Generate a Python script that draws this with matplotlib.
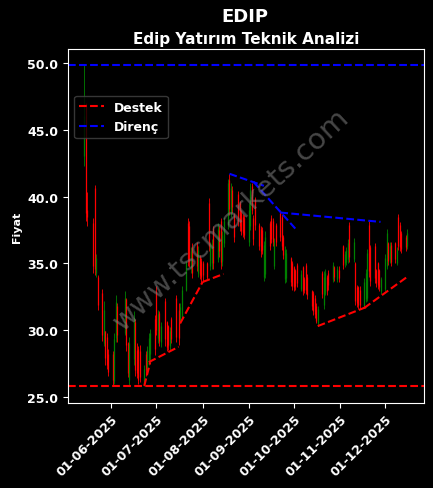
import numpy as np
import pandas as pd
import matplotlib
matplotlib.use("Agg")
import matplotlib.pyplot as plt
import matplotlib.dates as mdates

# ----- İşlem günleri (Mayıs - Aralık 2025) -----
holidays = ['2025-05-19', '2025-06-06', '2025-06-09', '2025-07-15', '2025-10-29']
dates = pd.bdate_range('2025-05-14', '2025-12-16')
dates = dates[~dates.isin(pd.to_datetime(holidays))]

# ----- OHLC verisi (aylara göre) -----
opens = [
    43.0, 46.9, 39.0, 38.0, 40.6, 34.3, 34.0, 32.8, 29.0, 29.9, 29.5, 28.2,
    28.2, 26.2, 29.4, 31.8, 29.8, 32.3, 29.0, 26.3, 27.8, 30.6, 28.5, 28.6, 28.4, 25.95, 28.2, 27.0, 27.5, 28.2, 30.8,
    32.9, 29.4, 31.3, 29.1, 32.2, 30.6, 30.3, 28.8, 30.8, 32.4, 31.5, 30.6, 31.0, 33.0, 38.0, 37.8, 34.6, 36.2, 36.4, 34.3, 35.5, 35.2,
    35.0, 35.0, 39.5, 34.8, 35.0, 37.6, 35.3, 37.5, 38.2, 35.2, 36.5, 37.9, 41.2, 38.8, 40.5, 38.6, 40.2, 39.5, 38.8, 38.5, 38.4,
    36.6, 37.8, 40.8, 38.4, 39.8, 37.9, 37.6, 37.5, 34.0, 34.2, 38.0, 38.4, 38.2, 34.8, 37.9, 38.8, 38.5, 37.0, 33.8, 33.9, 35.4, 35.0,
    34.7, 34.5, 34.9, 33.1, 34.7, 33.8, 34.9, 34.0, 32.9, 32.8, 32.4, 31.8, 30.5, 34.3, 31.9, 32.8, 34.0, 34.3, 33.8, 34.7, 33.8, 34.5,
    36.3, 35.0, 35.1, 35.3, 37.9, 35.3, 35.0, 33.2, 33.2, 33.0, 31.8, 32.3, 32.4, 37.9, 36.2, 36.3, 34.5, 35.0, 34.5, 32.9,
    33.1, 34.8, 36.5, 35.3, 36.4, 36.5, 35.0, 38.5, 37.9, 37.3, 37.0, 36.3,
]
highs = [
    49.86, 47.0, 40.3, 38.4, 40.85, 35.7, 34.1, 33.1, 32.2, 29.9, 29.75, 28.6,
    28.4, 29.8, 32.6, 32.0, 32.9, 32.4, 29.1, 29.5, 31.4, 30.8, 29.0, 28.8, 28.9, 27.4, 28.4, 28.8, 29.8, 30.1, 31.1,
    33.3, 31.5, 31.4, 30.6, 32.4, 30.7, 30.4, 30.2, 31.0, 32.6, 32.0, 32.0, 33.3, 35.2, 38.4, 38.2, 36.2, 36.5, 36.6, 36.3, 35.6, 35.4,
    35.2, 35.1, 39.9, 36.6, 36.8, 37.8, 38.0, 37.8, 38.4, 37.4, 38.5, 41.3, 41.7, 41.0, 40.8, 38.8, 40.4, 39.7, 39.0, 38.7, 38.6,
    39.5, 41.0, 41.0, 38.6, 40.0, 38.0, 37.8, 37.7, 36.7, 37.4, 38.2, 38.6, 38.4, 36.9, 38.0, 39.0, 38.7, 37.1, 36.3, 36.1, 35.5, 35.2,
    34.8, 34.6, 35.0, 34.5, 34.8, 34.0, 35.0, 34.2, 33.0, 32.9, 32.6, 32.0, 31.8, 34.4, 34.4, 34.6, 34.1, 34.5, 35.1, 34.8, 34.8, 34.8,
    36.4, 35.9, 36.2, 36.8, 38.1, 36.9, 35.1, 33.4, 33.3, 33.3, 33.9, 34.6, 36.1, 38.2, 36.4, 36.5, 34.6, 35.1, 34.6, 34.0,
    35.7, 37.6, 36.6, 36.6, 36.6, 36.6, 36.2, 38.7, 38.1, 37.4, 37.1, 37.6,
]
lows = [
    42.3, 38.2, 37.8, 34.3, 34.1, 34.0, 31.5, 29.2, 28.8, 27.4, 27.1, 26.6,
    25.9, 26.0, 29.1, 29.1, 29.6, 28.4, 26.5, 25.9, 27.4, 26.6, 26.4, 26.0, 26.1, 25.82, 26.6, 26.8, 27.4, 27.7, 28.1,
    29.6, 29.0, 28.8, 28.7, 28.8, 28.4, 28.5, 28.5, 29.0, 29.1, 28.9, 30.5, 30.8, 32.9, 34.8, 34.7, 34.3, 33.9, 34.4, 34.0, 33.8, 33.6,
    33.7, 33.8, 35.9, 34.5, 34.6, 34.6, 35.1, 35.5, 34.6, 34.8, 36.2, 37.6, 38.6, 38.5, 38.8, 36.6, 37.8, 37.4, 37.1, 37.0, 36.8,
    36.3, 37.5, 38.7, 36.4, 37.5, 36.0, 35.5, 35.7, 33.7, 33.9, 36.0, 36.5, 36.3, 34.6, 36.3, 36.7, 36.0, 35.3, 33.5, 33.6, 33.3, 33.0,
    32.9, 33.0, 33.2, 32.9, 32.6, 32.8, 32.7, 32.3, 31.5, 31.1, 30.9, 30.5, 30.3, 32.4, 31.6, 32.6, 32.6, 33.0, 33.6, 33.7, 33.6, 33.6,
    34.6, 34.7, 34.9, 35.0, 35.1, 35.1, 31.9, 31.7, 31.6, 31.6, 31.65, 32.1, 32.2, 34.0, 33.3, 33.5, 33.2, 33.1, 32.9, 32.7,
    32.9, 34.6, 34.9, 35.0, 34.8, 35.0, 34.9, 36.0, 35.9, 35.8, 35.9, 36.1,
]
closes = [
    46.0, 38.8, 38.5, 34.8, 34.6, 35.4, 31.9, 29.6, 31.5, 27.9, 27.4, 26.9,
    26.3, 29.3, 32.1, 29.6, 32.4, 28.9, 26.8, 29.0, 30.9, 27.0, 26.8, 26.3, 26.5, 27.1, 27.0, 28.5, 29.4, 29.8, 28.6,
    30.0, 31.2, 29.2, 30.3, 29.3, 28.7, 28.9, 29.9, 29.3, 29.5, 29.4, 31.7, 33.0, 35.0, 35.3, 35.1, 35.9, 34.3, 34.8, 36.0, 34.1, 34.0,
    34.1, 34.0, 36.3, 36.3, 36.5, 35.0, 37.6, 35.9, 35.1, 37.1, 38.2, 41.0, 39.1, 40.6, 39.2, 37.0, 38.2, 37.8, 37.4, 37.3, 37.1,
    39.0, 40.5, 39.0, 36.8, 37.9, 36.3, 35.9, 36.0, 36.4, 37.0, 36.3, 36.8, 36.6, 36.6, 36.6, 37.0, 36.3, 35.6, 36.0, 35.8, 33.6, 33.3,
    33.2, 33.3, 33.5, 34.2, 32.9, 33.0, 33.0, 32.6, 31.8, 31.4, 31.2, 30.7, 31.6, 32.7, 34.0, 34.3, 32.9, 33.4, 34.9, 34.0, 34.6, 33.9,
    34.9, 35.7, 36.0, 36.5, 35.5, 36.6, 32.2, 32.0, 31.9, 31.9, 33.6, 34.3, 35.8, 34.4, 33.7, 33.9, 33.5, 33.4, 33.2, 33.8,
    35.4, 37.3, 35.2, 36.3, 35.1, 35.3, 36.0, 36.3, 36.2, 36.1, 36.2, 37.3,
]

# ----- Destek / direnç çizgileri -----
support_lines = [
    (('2025-06-23', 25.82), ('2025-06-27', 27.6)),
    (('2025-06-26', 27.6), ('2025-07-16', 28.75)),
    (('2025-07-17', 30.5), ('2025-08-01', 33.6)),
    (('2025-08-01', 33.6), ('2025-08-15', 34.2)),
    (('2025-10-17', 30.3), ('2025-11-19', 31.75)),
    (('2025-11-17', 31.65), ('2025-12-16', 34.0)),
]
resistance_lines = [
    (('2025-08-19', 41.7), ('2025-09-11', 40.8)),
    (('2025-09-04', 41.1), ('2025-10-02', 37.6)),
    (('2025-09-22', 38.8), ('2025-11-28', 38.1)),
]

df = pd.DataFrame({'open': opens, 'high': highs, 'low': lows, 'close': closes}, index=dates)

plt.rcParams['font.family'] = ['DejaVu Sans']
fig = plt.figure(figsize=(4.33, 4.89), dpi=100, facecolor='black')
ax = fig.add_axes([0.157, 0.174, 0.822, 0.724], facecolor='black')

colors = np.where(df['close'] >= df['open'], 'green', 'red')
ax.vlines(df.index, df['low'], df['high'], colors=colors, linewidth=0.6)
ax.vlines(df.index, df['open'], df['close'], colors=colors, linewidth=0.9)

# yatay destek / direnç
ax.axhline(df['low'].min(), color='red', linestyle='--', linewidth=1.5)
ax.axhline(df['high'].max(), color='blue', linestyle='--', linewidth=1.5)

for i, (p1, p2) in enumerate(support_lines):
    ax.plot(pd.to_datetime([p1[0], p2[0]]), [p1[1], p2[1]], color='red', linestyle='--',
            linewidth=1.5, label='Destek' if i == 0 else None)
for i, (p1, p2) in enumerate(resistance_lines):
    ax.plot(pd.to_datetime([p1[0], p2[0]]), [p1[1], p2[1]], color='blue', linestyle='--',
            linewidth=1.5, label='Direnç' if i == 0 else None)

ax.set_xlim(pd.Timestamp('2025-05-03'), pd.Timestamp('2025-12-27'))
ax.set_ylim(24.55, 51.05)
ax.xaxis.set_major_formatter(mdates.DateFormatter('%d-%m-%Y'))
ax.set_xticks(pd.date_range('2025-06-01', '2025-12-01', freq='MS'))
ax.set_yticks([25, 30, 35, 40, 45, 50])
ax.yaxis.set_major_formatter(matplotlib.ticker.FormatStrFormatter('%.1f'))

for sp in ax.spines.values():
    sp.set_color('white')
ax.tick_params(colors='white', labelsize=9)
for lbl in ax.get_xticklabels():
    lbl.set_rotation(45)
    lbl.set_ha('right')
    lbl.set_rotation_mode('anchor')
    lbl.set_fontweight('bold')
for lbl in ax.get_yticklabels():
    lbl.set_fontweight('bold')

ax.set_ylabel('Fiyat', color='white', fontsize=8, fontweight='bold')
fig.text(0.565, 0.965, 'EDIP', color='white', fontsize=13, fontweight='bold', ha='center', va='center')
ax.set_title('Edip Yatırım Teknik Analizi', color='white', fontsize=11, fontweight='bold', pad=4)

ax.text(0.46, 0.52, 'www.tscmarkets.com', transform=ax.transAxes, rotation=43, fontsize=21,
        color='gray', alpha=0.55, ha='center', va='center')

leg = ax.legend(loc='upper left', bbox_to_anchor=(0.0, 0.885), fontsize=9, facecolor='black',
                edgecolor='#444444', framealpha=0.8)
for t in leg.get_texts():
    t.set_color('white')
    t.set_fontweight('bold')

fig.savefig('out.png', dpi=100, facecolor='black')
